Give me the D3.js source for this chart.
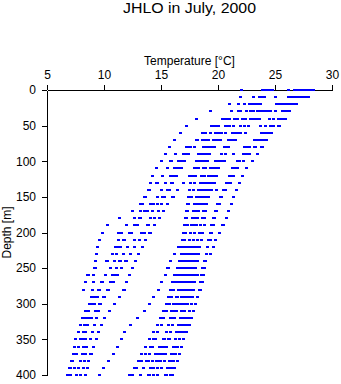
<!DOCTYPE html>
<html>
<head>
<meta charset="utf-8">
<script src="https://cdn.jsdelivr.net/npm/d3@7"></script>
<style>
  html, body { margin: 0; padding: 0; background: #fff; }
  svg { display: block; }
  text { font-family: "Liberation Sans", Arial, Helvetica, sans-serif; fill: #000; }
</style>
</head>
<body>
<svg id="chart" width="341" height="384"></svg>
<script>
const title = "JHLO in July, 2000";
const xLabel = "Temperature [\u00B0C]";
const yLabel = "Depth [m]";
const xTicks = [5, 10, 15, 20, 25, 30];
const yTicks = [0, 50, 100, 150, 200, 250, 300, 350, 400];
const depths = [0,10,20,30,40,50,60,70,80,90,100,110,120,130,140,150,160,170,180,190,200,
  210,220,230,240,250,260,270,280,290,300,310,320,330,340,350,360,370,380,390,400];
const tempsByDepth = [
  [22.0,23.85,24.05,24.25,24.45,24.7,26.1,26.7,26.9,27.1,27.3,27.5,27.7,27.9,28.1,28.35],
  [21.9,23.05,23.6,23.8,24.0,25.0,26.15,26.35,26.55,26.75,26.95,27.15,27.35,27.55,27.75,27.9],
  [20.95,21.75,22.27,22.7,22.9,23.1,23.3,23.5,23.7,25.1,25.3,25.5,25.7,25.9,26.1,26.3,26.5,26.7,26.85],
  [19.28,21.16,21.75,21.9,22.47,22.85,23.1,23.45,23.65,23.95,24.15,24.35,24.55,25.0,25.6,25.8,26.0,26.2],
  [18.05,20.37,20.57,20.77,20.97,21.37,21.67,22.1,22.4,22.8,23.0,23.2,23.4,23.57,24.47,24.83,25.26,25.46,25.66,25.88],
  [17.23,19.4,19.6,19.8,19.97,20.6,20.8,21.0,21.3,21.92,22.27,22.65,23.67,24.14,24.56,24.86,25.26,25.35],
  [16.66,18.62,18.86,19.31,19.7,19.9,20.1,20.3,20.6,21.2,21.4,21.6,21.8,21.95,22.35,23.77,23.97,24.17,24.4,24.62],
  [16.18,18.05,18.15,18.56,18.76,18.96,19.1,19.58,19.78,19.98,20.17,20.87,21.07,21.27,21.49,23.15,23.35,23.55,23.75,23.95,24.18],
  [15.7,17.18,17.38,17.58,17.88,18.68,18.88,19.08,19.28,19.48,19.68,20.49,20.69,20.9,22.3,22.5,22.7,23.15,23.25,23.74,23.84],
  [15.34,16.22,16.92,17.12,17.33,18.27,18.47,18.67,18.87,19.07,19.21,20.29,20.61,21.31,22.19,22.39,22.59,22.72,23.44],
  [14.99,15.78,15.87,16.48,16.68,16.88,17.01,18.06,18.26,18.46,18.66,18.86,19.03,19.73,19.93,20.13,20.33,20.52,21.66,21.86,22.16,22.95],
  [14.55,15.52,16.13,16.33,16.53,16.75,17.89,18.09,18.24,18.68,18.86,19.29,19.49,19.69,19.89,20.0,21.22,21.42,21.67,22.45],
  [14.2,15.08,15.78,15.98,16.18,16.31,17.45,17.65,17.85,17.98,18.5,18.77,19.12,19.32,19.52,19.82,20.96,21.16,21.31,22.1],
  [14.02,14.55,14.64,15.34,15.87,15.96,16.92,17.54,17.89,18.41,18.61,18.81,19.01,19.21,19.41,19.65,20.7,20.9,21.05,21.84],
  [13.85,13.94,14.99,15.52,15.7,16.39,17.45,17.8,18.24,18.44,18.64,18.84,19.04,19.24,19.38,19.82,20.43,20.61,21.57],
  [13.5,13.59,14.64,15.08,15.26,15.96,16.05,17.36,17.63,18.06,18.26,18.46,18.66,18.86,19.12,20.17,20.26,21.31],
  [13.15,13.33,14.02,14.29,14.64,14.99,15.52,17.27,17.36,17.89,18.09,18.29,18.49,18.69,18.94,19.91,20.09,21.13],
  [12.44,13.15,13.5,13.76,14.2,14.73,15.17,17.18,17.28,17.8,18.0,18.24,18.68,18.86,19.73,19.82,20.87],
  [11.3,12.62,13.06,13.15,14.02,14.38,14.81,17.1,17.19,17.71,17.91,18.15,18.59,18.77,19.56,19.65,20.7],
  [10.25,11.92,12.62,12.89,13.76,13.85,14.38,17.01,17.28,17.62,17.82,18.07,18.41,18.77,19.38,19.56,20.35,20.44],
  [9.81,11.21,11.48,12.18,12.36,13.23,13.5,13.94,14.03,16.92,17.1,17.54,17.89,18.33,18.59,19.29,19.38,20.08],
  [9.55,11.21,11.65,11.74,12.62,13.06,13.59,16.83,17.01,17.45,17.8,18.15,18.51,19.12,19.3,19.73],
  [9.37,10.95,11.15,11.39,12.0,12.62,13.32,16.48,16.66,16.92,17.12,17.32,17.52,17.72,17.92,18.12,18.33,19.03,19.56],
  [9.28,10.69,11.04,11.65,12.27,12.97,16.13,16.75,16.95,17.15,17.35,17.55,17.75,17.95,18.24,18.94,19.29],
  [9.2,10.16,10.25,10.86,11.3,11.39,11.83,11.92,12.71,15.78,16.57,16.77,16.97,17.17,17.37,17.57,17.77,17.97,18.15,18.77,18.86],
  [9.11,9.2,10.51,11.04,11.48,12.44,15.52,15.61,16.39,16.59,16.79,16.99,17.19,17.39,17.59,17.79,17.98,18.59,18.77],
  [8.49,8.58,9.02,10.07,10.69,10.89,11.13,12.18,15.34,16.13,16.33,16.53,16.73,16.93,17.13,17.33,17.53,17.73,17.93,18.15,18.5,18.68],
  [8.32,9.02,9.72,9.81,10.51,10.78,11.92,14.99,15.96,16.16,16.36,16.56,16.76,16.96,17.16,17.36,17.56,17.76,17.89,18.41,18.59],
  [8.14,8.93,9.46,9.55,10.25,10.34,11.65,11.74,14.73,15.78,16.05,16.48,16.68,16.88,17.08,17.28,17.48,17.68,17.8,18.33,18.42],
  [8.84,9.04,9.24,9.37,9.9,9.99,11.3,14.29,15.6,15.87,16.31,16.4,16.75,16.95,17.15,17.35,17.55,17.71,18.15],
  [8.67,8.87,9.11,9.55,9.64,10.86,13.94,15.43,15.7,16.04,16.24,16.44,16.64,16.84,17.04,17.28,17.62,17.98],
  [8.32,8.58,9.2,9.46,10.42,13.5,15.17,15.43,15.87,16.07,16.31,16.75,17.01,17.45,17.8],
  [8.05,8.25,8.45,8.65,8.85,9.28,9.99,12.88,14.9,15.17,15.78,15.98,16.13,16.66,16.86,17.06,17.26,17.46,17.63],
  [7.88,8.23,8.5,9.11,9.72,12.27,14.64,14.99,15.6,15.96,16.48,16.68,16.88,17.08,17.28,17.45],
  [7.7,8.14,8.32,8.93,9.46,11.74,14.29,14.64,15.43,15.78,16.31,16.51,16.71,16.91,17.19],
  [7.44,7.88,8.08,8.32,8.76,9.28,11.48,13.94,14.29,14.47,15.17,15.26,15.6,15.7,16.22,16.57,16.92],
  [7.35,7.7,8.14,8.41,9.02,11.12,13.59,14.02,14.2,14.81,15.01,15.21,15.43,16.04,16.24,16.44,16.75],
  [7.26,7.53,8.05,8.32,8.76,8.85,10.78,13.23,13.59,13.94,14.46,14.66,14.86,15.06,15.34,15.87,16.07,16.27,16.57],
  [7.09,7.18,7.88,8.23,8.58,10.34,12.97,13.24,13.67,13.85,14.2,14.55,14.75,14.95,15.26,15.69,15.89,16.09,16.4],
  [6.91,7.0,7.35,7.7,8.14,8.49,9.9,12.62,12.8,13.41,14.02,14.29,14.64,14.99,15.52,15.72,15.92,16.13],
  [6.74,7.0,7.53,7.88,8.32,9.55,12.18,12.45,13.15,13.85,13.94,14.29,14.64,15.34,15.43,15.78,15.96]
];

const points = [];
depths.forEach((d, i) => tempsByDepth[i].forEach(t => points.push({ depth: d, temp: t })));

const svg = d3.select("#chart");
const x = d3.scaleLinear().domain([5, 30]).range([47, 332]);
const y = d3.scaleLinear().domain([0, 400]).range([90, 375]);

// title
svg.append("text")
  .attr("x", 189.5).attr("y", 13)
  .attr("text-anchor", "middle")
  .attr("font-size", 14)
  .attr("textLength", 133).attr("lengthAdjust", "spacingAndGlyphs")
  .text(title);

// x axis (top)
const gx = svg.append("g")
  .attr("transform", "translate(0,90)")
  .call(d3.axisTop(x).tickValues(xTicks).tickSize(5).tickSizeOuter(0).tickPadding(6));
// y axis (left)
const gy = svg.append("g")
  .attr("transform", "translate(47,0)")
  .call(d3.axisLeft(y).tickValues(yTicks).tickSize(5).tickSizeOuter(0).tickPadding(6));

[gx, gy].forEach(g => {
  g.selectAll("text").attr("font-size", 12).attr("font-family", null);
  g.attr("font-family", null).attr("font-size", null);
  g.selectAll("path, line").attr("stroke", "#000").attr("shape-rendering", "crispEdges");
});

// axis labels
svg.append("text")
  .attr("x", 189.5).attr("y", 65)
  .attr("text-anchor", "middle")
  .attr("font-size", 12)
  .text(xLabel);

svg.append("text")
  .attr("transform", "translate(10.5,232.5) rotate(-90)")
  .attr("text-anchor", "middle")
  .attr("font-size", 12)
  .text(yLabel);

// points
svg.append("g")
  .attr("fill", "#0000ff")
  .attr("shape-rendering", "crispEdges")
  .selectAll("rect")
  .data(points)
  .join("rect")
  .attr("x", p => Math.round(x(p.temp)) - 1)
  .attr("y", p => Math.round(y(p.depth)) - 1)
  .attr("width", 3)
  .attr("height", 2);
</script>
</body>
</html>
